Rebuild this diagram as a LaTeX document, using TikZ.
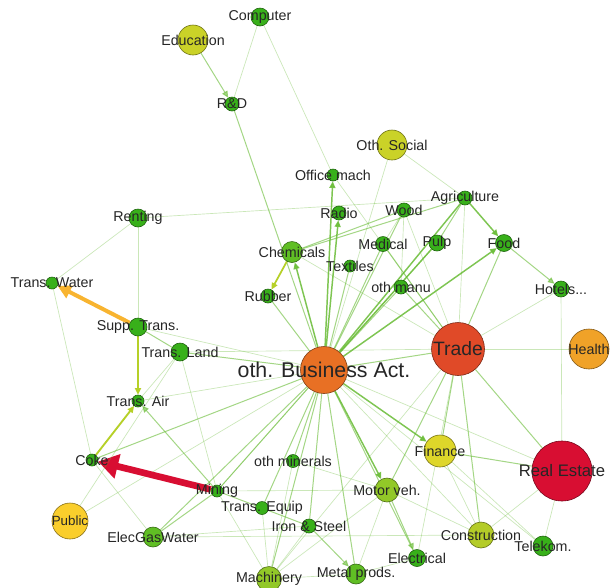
\documentclass[tikz,border=0pt]{standalone}
\usepackage{fontspec}
\setmainfont{Liberation Sans}
\usetikzlibrary{arrows.meta,backgrounds}

\definecolor{cgr}{RGB}{56,176,26}
\definecolor{cgl}{RGB}{96,190,36}
\definecolor{cyg}{RGB}{146,200,40}
\definecolor{cyl}{RGB}{180,204,40}
\definecolor{cye}{RGB}{202,210,40}
\definecolor{cfi}{RGB}{222,214,42}
\definecolor{cpu}{RGB}{250,206,44}
\definecolor{che}{RGB}{240,162,40}
\definecolor{cob}{RGB}{232,112,36}
\definecolor{ctr}{RGB}{224,74,40}
\definecolor{cre}{RGB}{216,14,50}
\definecolor{egr}{RGB}{104,188,52}
\definecolor{eor}{RGB}{248,180,48}
\definecolor{eyg}{RGB}{182,208,40}

\tikzset{
  nd/.style={circle,draw=#1!55!black,fill=#1,line width=0.45pt,inner sep=0pt},
  dia/.style={minimum size=#1*0.75pt},
  lbl/.style={font=\fontsize{10.7}{12}\selectfont,text=black!85,inner sep=0pt},
  lnk/.style={draw=egr,line width=0.5pt,opacity=0.35},
  lnkm/.style={draw=egr,line width=0.75pt,opacity=0.6},
  lnks/.style={draw=egr,line width=1.1pt,opacity=0.85},
  ahd/.style={-{Triangle[length=5pt,width=4.5pt]}},
}

\begin{document}
\begin{tikzpicture}[x=0.75pt,y=-0.75pt]
\useasboundingbox (0,0) rectangle (611,587);

% ノード
\node[nd=cgr,dia=18,label={[lbl]center:Computer}] (comp) at (260,17) {};
\node[nd=cye,dia=30,label={[lbl]center:Education}] (edu) at (193,40) {};
\node[nd=cgr,dia=14,label={[lbl]center:R\&D}] (rnd) at (232,104) {};
\node[nd=cye,dia=30,label={[lbl]center:Oth. Social}] (othsoc) at (392,145) {};
\node[nd=cgr,dia=12,label={[lbl]center:Office mach}] (offm) at (333,175) {};
\node[nd=cgr,dia=14,label={[lbl]center:Radio}] (radio) at (339,213) {};
\node[nd=cgr,dia=14,label={[lbl]center:Wood}] (wood) at (404,210) {};
\node[nd=cgr,dia=14,label={[lbl]center:Agriculture}] (agri) at (465,198) {};
\node[nd=cgr,dia=17,label={[lbl]center:Food}] (food) at (504,243) {};
\node[nd=cgr,dia=15,label={[lbl]center:Medical}] (medi) at (383,244) {};
\node[nd=cgr,dia=16,label={[lbl]center:Pulp}] (pulp) at (437,243) {};
\node[nd=cgl,dia=21,label={[lbl]center:Chemicals}] (chem) at (292,252) {};
\node[nd=cgr,dia=12,label={[lbl]center:Textiles}] (text) at (350,266) {};
\node[nd=cgr,dia=18,label={[lbl]center:Renting}] (rent) at (138,218) {};
\node[nd=cgr,dia=12,label={[lbl]center:Trans. Water}] (twat) at (52,283) {};
\node[nd=cgr,dia=14,label={[lbl]center:Rubber}] (rubb) at (268,296) {};
\node[nd=cgr,dia=14,label={[lbl]center:oth manu}] (omanu) at (401,287) {};
\node[nd=cgr,dia=16,label={[lbl]center:Hotels...}] (hotel) at (561,289) {};
\node[nd=cgr,dia=18,label={[lbl]center:Supp. Trans.}] (supp) at (138,327) {};
\node[nd=cgr,dia=18,label={[lbl]center:Trans. Land}] (tland) at (180,352) {};
\node[nd=cob,dia=47,label={[lbl,font=\fontsize{16}{18}\selectfont]center:oth. Business Act.}] (obus) at (324,370) {};
\node[nd=ctr,dia=53,label={[lbl,font=\fontsize{14.5}{16}\selectfont]center:Trade}] (trade) at (458,349) {};
\node[nd=che,dia=40,label={[lbl]center:Health}] (health) at (589,349) {};
\node[nd=cgr,dia=12,label={[lbl]center:Trans. Air}] (tair) at (138,401) {};
\node[nd=cgr,dia=12,label={[lbl]center:Coke}] (coke) at (92,460) {};
\node[nd=cfi,dia=32,label={[lbl]center:Finance}] (fin) at (440,451) {};
\node[nd=cre,dia=60,label={[lbl,font=\fontsize{12.5}{14}\selectfont]center:Real Estate}] (realest) at (562,471) {};
\node[nd=cgr,dia=12,label={[lbl]center:Mining}] (mining) at (217,491) {};
\node[nd=cgr,dia=13,label={[lbl]center:oth minerals}] (omin) at (293,461) {};
\node[nd=cyg,dia=24,label={[lbl]center:Motor veh.}] (motor) at (387,490) {};
\node[nd=cgr,dia=13,label={[lbl]center:Trans. Equip}] (tequip) at (262,508) {};
\node[nd=cgr,dia=14,label={[lbl]center:Iron \& Steel}] (iron) at (309,526) {};
\node[nd=cpu,dia=36,label={[lbl,font=\fontsize{10}{12}\selectfont]center:Public}] (public) at (70,521) {};
\node[nd=cgl,dia=20,label={[lbl]center:ElecGasWater}] (egw) at (153,537) {};
\node[nd=cyl,dia=26,label={[lbl]center:Construction}] (constr) at (481,535) {};
\node[nd=cgr,dia=20,label={[lbl]center:Telekom.}] (telek) at (543,546) {};
\node[nd=cgr,dia=17,label={[lbl]center:Electrical}] (elec) at (417,558) {};
\node[nd=cyg,dia=25,label={[lbl]center:Machinery}] (mach) at (269,579) {};
\node[nd=cgl,dia=20,label={[lbl]center:Metal prods.}] (metal) at (356,574) {};

% 辺
\begin{pgfonlayer}{background}
\fill[white] (0,0) rectangle (611,587);
% 上の方
\draw[lnkm,ahd] (edu) -- (rnd);
\draw[lnk] (comp) -- (rnd);
\draw[lnk] (comp) -- (offm);
\draw[lnkm] (rnd) -- (obus);
\draw[lnk] (othsoc) -- (obus);
\draw[lnk] (othsoc) -- (agri);
\draw[lnk] (rent) -- (agri);
\draw[lnk] (rent) -- (twat);
\draw[lnk] (rent) -- (supp);
% oth. Business Act. から
\draw[lnks,ahd] (obus) -- (offm);
\draw[lnks,ahd] (obus) -- (radio);
\draw[lnks,ahd] (obus) -- (chem);
\draw[lnks,ahd] (obus) -- (food);
\draw[lnks,ahd] (obus) -- (fin);
\draw[lnks,ahd] (obus) -- (motor);
\draw[lnks] (obus) -- (agri);
\draw[lnks] (obus) -- (pulp);
\draw[lnkm] (obus) -- (wood);
\draw[lnkm] (obus) -- (medi);
\draw[lnkm] (obus) -- (text);
\draw[lnkm] (obus) -- (omanu);
\draw[lnkm] (obus) -- (rubb);
\draw[lnkm] (obus) -- (trade);
\draw[lnkm] (obus) -- (tland);
\draw[lnk] (obus) -- (supp);
\draw[lnkm] (obus) -- (coke);
\draw[lnk] (obus) -- (tair);
\draw[lnkm] (obus) -- (mining);
\draw[lnkm] (obus) -- (omin);
\draw[lnkm] (obus) -- (tequip);
\draw[lnkm] (obus) -- (iron);
\draw[lnkm] (obus) -- (mach);
\draw[lnkm] (obus) -- (metal);
\draw[lnkm] (obus) -- (elec);
\draw[lnkm] (obus) -- (egw);
\draw[lnk] (obus) -- (constr);
\draw[lnk] (obus) -- (realest);
\draw[lnk] (obus) -- (telek);
\draw[lnk] (obus) -- (public);
% 化学など
\draw[ahd,draw=eyg,fill=eyg,line width=1.3pt] (chem) -- (rubb);
\draw[lnkm] (chem) -- (wood);
\draw[lnkm] (chem) -- (agri);
\draw[lnk] (chem) -- (trade);
\draw[lnk] (offm) -- (trade);
\draw[lnk] (wood) -- (medi);
\draw[lnk] (wood) -- (omanu);
\draw[lnk] (wood) -- (trade);
\draw[lnkm] (agri) -- (pulp);
\draw[lnk] (agri) -- (trade);
\draw[lnks,ahd] (agri) -- (food);
\draw[lnkm,ahd] (food) -- (hotel);
\draw[lnkm] (food) -- (trade);
\draw[lnkm] (medi) -- (trade);
\draw[lnkm] (omanu) -- (trade);
\draw[lnk] (pulp) -- (mining);
% Trade から
\draw[lnk] (trade) -- (hotel);
\draw[lnk] (trade) -- (health);
\draw[lnkm] (trade) -- (realest);
\draw[lnkm] (trade) -- (constr);
\draw[lnkm] (trade) -- (fin);
\draw[lnkm] (trade) -- (motor);
\draw[lnk] (trade) -- (tland);
\draw[lnk] (trade) -- (elec);
\draw[lnk] (trade) -- (mach);
\draw[lnk] (hotel) -- (realest);
% 交通
\draw[-{Triangle[length=10pt,width=10pt]},draw=eor,line width=3pt] (supp) -- (twat);
\draw[ahd,draw=eyg,line width=1.4pt] (supp) -- (tair);
\draw[ahd,draw=eyg,line width=1.4pt] (coke) -- (tair);
\draw[lnkm,ahd] (mining) -- (tair);
\draw[lnkm] (supp) -- (tland);
\draw[lnk] (tland) -- (mining);
\draw[lnk] (tland) -- (tair);
\draw[lnk] (twat) -- (coke);
\draw[-{Triangle[length=15pt,width=18pt]},draw=cre,line width=5pt] (mining) -- (coke);
\draw[lnk] (coke) -- (egw);
\draw[lnk] (public) -- (tland);
% 下の方
\draw[lnkm] (mining) -- (egw);
\draw[lnkm] (mining) -- (tequip);
\draw[lnk] (mining) -- (mach);
\draw[lnk] (mining) -- (motor);
\draw[lnkm] (tequip) -- (iron);
\draw[lnk] (tequip) -- (mach);
\draw[lnkm,ahd] (iron) -- (metal);
\draw[lnk] (iron) -- (mach);
\draw[lnk] (egw) -- (iron);
\draw[lnk] (egw) -- (constr);
\draw[lnk] (omin) -- (mach);
\draw[lnk] (omin) -- (motor);
\draw[lnkm,ahd] (motor) -- (elec);
\draw[lnk] (motor) -- (constr);
\draw[lnk] (motor) -- (metal);
\draw[lnk] (motor) -- (mach);
\draw[lnk] (metal) -- (elec);
\draw[lnk] (mach) -- (metal);
\draw[lnk] (fin) -- (telek);
\draw[lnk] (fin) -- (constr);
\draw[lnkm] (fin) -- (realest);
\draw[lnk] (constr) -- (realest);
\draw[lnk] (telek) -- (realest);
\end{pgfonlayer}
\end{tikzpicture}
\end{document}
